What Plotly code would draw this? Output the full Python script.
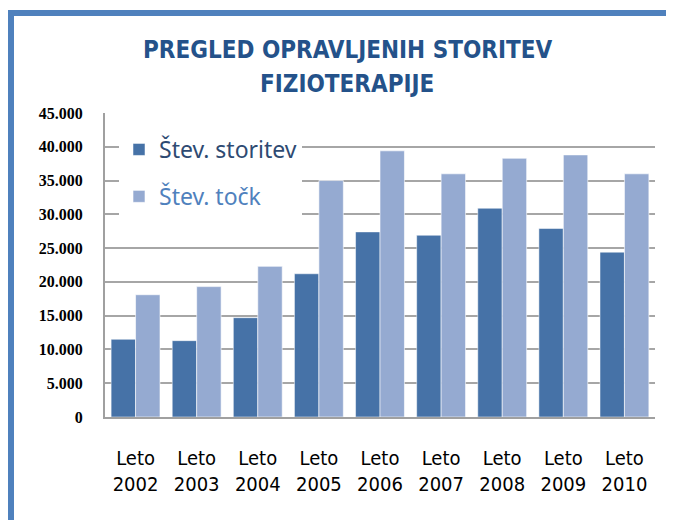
import plotly.graph_objects as go

categories = ["Leto<br>2002", "Leto<br>2003", "Leto<br>2004", "Leto<br>2005", "Leto<br>2006",
              "Leto<br>2007", "Leto<br>2008", "Leto<br>2009", "Leto<br>2010"]
stev_storitev = [11500, 11300, 14700, 21200, 27400, 26900, 30900, 27900, 24400]
stev_tock = [18100, 19300, 22300, 35000, 39400, 36000, 38300, 38800, 36000]
y_ticks = [0, 5000, 10000, 15000, 20000, 25000, 30000, 35000, 40000, 45000]
title_lines = ["PREGLED OPRAVLJENIH STORITEV", "FIZIOTERAPIJE"]

DARK = "#4672A7"
LIGHT = "#95AAD1"
NARROW = "Liberation Sans Narrow, DejaVu Sans Condensed, Roboto Condensed, Liberation Sans"

fig = go.Figure()
fig.add_trace(go.Bar(
    x=categories, y=stev_storitev,
    name="<span style='color:#2E4A72'>Štev. storitev</span>",
    marker=dict(color=DARK, line=dict(color="rgba(255,255,255,0.5)", width=1)),
    legendgroup="a",
))
fig.add_trace(go.Bar(
    x=categories, y=stev_tock,
    name="<span style='color:#4F81BD'>Štev. točk</span>",
    marker=dict(color=LIGHT, line=dict(color="rgba(255,255,255,0.6)", width=1)),
    legendgroup="b",
))

# page has an 8px body margin: work in figure coordinates
W, H = 666, 512
L, T = 97, 105
R = W - 647
B = H - 409
pw, ph = W - L - R, H - T - B

def px(x):
    return (x - L) / pw

def py(y):
    return (H - B - y) / ph

shapes = [
    dict(type="rect", xref="paper", yref="paper", x0=px(0), x1=px(W + 5), y0=py(8), y1=py(2),
         fillcolor="#4F81BD", line=dict(width=0), layer="above"),
    dict(type="rect", xref="paper", yref="paper", x0=px(0), x1=px(6), y0=py(H + 5), y1=py(2),
         fillcolor="#4F81BD", line=dict(width=0), layer="above"),
]

title_font = dict(family=NARROW, size=24, color="#24528A", weight="bold")
annotations = [
    dict(text=title_lines[0], xref="paper", yref="paper", x=px(339), y=py(42),
         xanchor="center", yanchor="middle", showarrow=False, font=title_font),
    dict(text=title_lines[1], xref="paper", yref="paper", x=px(339), y=py(76),
         xanchor="center", yanchor="middle", showarrow=False, font=title_font),
]

fig.update_layout(
    width=W, height=H,
    margin=dict(l=L, r=R, t=T, b=B),
    paper_bgcolor="white", plot_bgcolor="white",
    separators=",.",
    barmode="group", bargap=0.2, bargroupgap=0,
    annotations=annotations,
    legend=dict(
        x=px(111), y=py(120), xanchor="left", yanchor="top",
        bgcolor="white", borderwidth=0,
        font=dict(family="Noto Sans, Open Sans", size=23),
        tracegroupgap=14, traceorder="grouped",
    ),
    showlegend=True,
    shapes=shapes,
    xaxis=dict(
        showgrid=False, showline=True, linecolor="#A0A0A0", linewidth=2,
        ticks="", tickfont=dict(family=NARROW, size=20, color="black"),
        ticklabelstandoff=22,
    ),
    yaxis=dict(
        range=[0, 45000], tickvals=y_ticks, tickformat=",d",
        showgrid=True, gridcolor="#A6A6A6", gridwidth=1.5,
        showline=True, linecolor="#A0A0A0", linewidth=2, zeroline=False,
        ticks="", tickfont=dict(family="Liberation Serif, DejaVu Serif", size=16, color="black", weight="bold"),
        ticklabelstandoff=17,
    ),
)

fig.write_html("out.html")
